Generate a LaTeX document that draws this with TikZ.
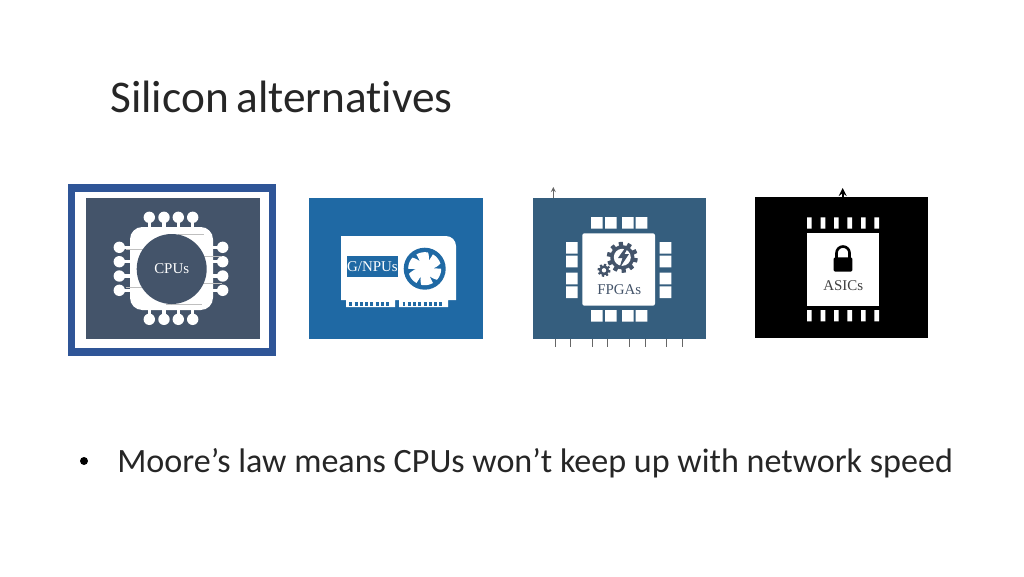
\documentclass[tikz,border=0pt]{standalone}
\usepackage{fontspec}
\usepackage{tikz}
\setmainfont{Carlito}
\newfontfamily\chipfont{Liberation Serif}
\newfontfamily\titlefont[Ligatures=NoCommon,WordSpace=0.75]{Carlito}
\definecolor{framecol}{HTML}{2F5597}
\definecolor{cpucol}{HTML}{44546A}
\definecolor{gpucol}{HTML}{1F69A4}
\definecolor{fpgacol}{HTML}{355E7E}
\definecolor{inkcol}{HTML}{262626}
\tikzset{
    chiplabel/.style={inner sep=0pt,font=\chipfont\fontsize{8.5pt}{10pt}\selectfont},
    slidetext/.style={inner sep=0pt,anchor=base west,text=inkcol},
    stem/.style={white,line width=1.8pt},
    faint/.style={black!25,line width=0.3pt}
}
\begin{document}
\begin{tikzpicture}[x=0.02cm,y=-0.02cm]
            \useasboundingbox (0,0) rectangle (1024,576);
            \node[slidetext,font=\titlefont\fontsize{25.8pt}{30pt}\selectfont] (title) at (110,112) {Silicon alternatives};
            \draw[framecol,line width=4pt] (71.5,188) rectangle (272.5,352);
            \begin{scope}[shift={(86,198)}]
                \fill[cpucol] (0,0) rectangle (174,141);
                \draw[stem] (63.3,19) -- (63.3,122) (78,19) -- (78,122) (92.3,19) -- (92.3,122) (106.7,19) -- (106.7,122);
                \draw[stem] (33,49.3) -- (137,49.3) (33,63.7) -- (137,63.7) (33,78) -- (137,78) (33,92.3) -- (137,92.3);
                \fill[white,rounded corners=7pt] (44,29) rectangle (127,112);
                \fill[white] (63.3,19.3) circle (5.7) (78,19.3) circle (5.7) (92.3,19.3) circle (5.7) (106.7,19.3) circle (5.7);
                \fill[white] (63.3,121.3) circle (5.7) (78,121.3) circle (5.7) (92.3,121.3) circle (5.7) (106.7,121.3) circle (5.7);
                \fill[white] (33.3,49.3) circle (5.7) (33.3,63.7) circle (5.7) (33.3,78) circle (5.7) (33.3,92.3) circle (5.7);
                \fill[white] (136.7,49.3) circle (5.7) (136.7,63.7) circle (5.7) (136.7,78) circle (5.7) (136.7,92.3) circle (5.7);
                \draw[faint] (92,36) -- (118,36) (80,106) -- (116,106) (40,51) -- (60,51) (40,89) -- (58,89) (110,58) -- (136,58) (112,85) -- (136,85);
                \fill[cpucol] (85.7,71) circle (35);
                \node[chiplabel,white] (cpus) at (85.7,71) {CPUs};
            \end{scope}
            \begin{scope}[shift={(309,198)}]
                \fill[gpucol] (0,0) rectangle (174,141);
                \fill[white] (32,38) -- (137,38) arc (-90:0:10) -- (147,102) -- (139,102) -- (139,109) -- (90,109) -- (90,102) -- (86,102) -- (86,109) -- (37,109) -- (37,102) -- (32,102) -- cycle;
                \draw[gpucol,line width=2.8pt,dash pattern=on 1.7pt off 1.3pt] (40.3,106) -- (82,106);
                \draw[gpucol,line width=2.8pt,dash pattern=on 1.7pt off 1.3pt] (93.5,106) -- (135,106);
                \fill[gpucol] (38,58) rectangle (89,79);
                \node[chiplabel,white] (gnpus) at (63.5,68.5) {G/NPUs};
                \fill[gpucol] (115.7,70.7) circle (21);
                \fill[white,shift={(115.7,70.7)},domain=0:357,samples=120,variable=\t] plot ({ifthenelse(mod(\t,60)<42,16.5,16.5-9.5*(mod(\t,60)-42)/18)*cos(\t)},{ifthenelse(mod(\t,60)<42,16.5,16.5-9.5*(mod(\t,60)-42)/18)*sin(\t)}) -- cycle;
            \end{scope}
            \begin{scope}[shift={(533,198)}]
                \fill[fpgacol] (0,0) rectangle (173,141);
                \draw[black!60,line width=0.3pt,->,>=stealth] (20.3,0) -- (20.3,-11);
                \draw[black!60,line width=0.3pt] (22,141) -- (22,149) (37.7,141) -- (37.7,149) (59.7,141) -- (59.7,149) (74.7,141) -- (74.7,149) (96.7,141) -- (96.7,149) (112,141) -- (112,149) (133.7,141) -- (133.7,149) (149,141) -- (149,149);
                \fill[white,rounded corners=1.2pt] (49.3,35.3) rectangle (122,107.7);
                \fill[white] (58,19) rectangle ++(11.7,11.7) (72,19) rectangle ++(11.7,11.7) (89,19) rectangle ++(11.7,11.7) (102.7,19) rectangle ++(11.7,11.7);
                \fill[white] (58,112) rectangle ++(11.7,11.7) (72,112) rectangle ++(11.7,11.7) (89,112) rectangle ++(11.7,11.7) (102.7,112) rectangle ++(11.7,11.7);
                \fill[white] (33,44) rectangle ++(11.7,11.7) (33,57.7) rectangle ++(11.7,11.7) (33,74.7) rectangle ++(11.7,11.7) (33,88.3) rectangle ++(11.7,11.7);
                \fill[white] (126.7,44) rectangle ++(11.7,11.7) (126.7,57.7) rectangle ++(11.7,11.7) (126.7,74.7) rectangle ++(11.7,11.7) (126.7,88.3) rectangle ++(11.7,11.7);
                % gears and bolt
                \fill[cpucol,shift={(89.3,59.3)},domain=0:358,samples=180,variable=\t] plot ({ifthenelse(mod(\t,36)<18,15.5,12)*cos(\t+4)},{ifthenelse(mod(\t,36)<18,15.5,12)*sin(\t+4)}) -- cycle;
                \fill[white] (89.3,59.3) circle (8.5);
                \fill[cpucol,shift={(71,72.3)},domain=0:358,samples=180,variable=\t] plot ({ifthenelse(mod(\t,45)<22.5,6.5,4.8)*cos(\t)},{ifthenelse(mod(\t,45)<22.5,6.5,4.8)*sin(\t)}) -- cycle;
                \fill[white] (71,72.3) circle (2.2);
                \fill[cpucol] (93.5,48) -- (85,60) -- (89.5,60) -- (86,71) -- (96,56) -- (91.5,56) -- (96,48) -- cycle;
                \node[chiplabel,text=cpucol] (fpgas) at (86.3,91.3) {FPGAs};
            \end{scope}
            \begin{scope}[shift={(755,197)}]
                \fill[black] (0,0) rectangle (173,141);
                \draw[black,line width=1pt,-stealth] (87.7,0) -- (87.7,-9);
                \fill[white] (51.7,36.3) rectangle (124,108.7);
                \fill[white] (52,20.3) rectangle ++(4.7,11.4) (65.7,20.3) rectangle ++(4.7,11.4) (79,20.3) rectangle ++(4.7,11.4) (92.3,20.3) rectangle ++(4.7,11.4) (106,20.3) rectangle ++(4.7,11.4) (119.3,20.3) rectangle ++(4.7,11.4);
                \fill[white] (52,113) rectangle ++(4.7,11.4) (65.7,113) rectangle ++(4.7,11.4) (79,113) rectangle ++(4.7,11.4) (92.3,113) rectangle ++(4.7,11.4) (106,113) rectangle ++(4.7,11.4) (119.3,113) rectangle ++(4.7,11.4);
                % lock
                \fill[black,rounded corners=0.8pt] (78.7,60.3) rectangle (97.3,74.7);
                \draw[black,line width=1.5pt] (81.5,61) -- (81.5,56) arc (180:360:6.5) -- (94.5,61);
                \node[chiplabel,text=black!75] (asics) at (88.3,89) {ASICs};
            \end{scope}
            \fill[black] (84,461) circle (4);
            \node[slidetext,font=\fontsize{19.4pt}{23pt}\selectfont] (bullet) at (117,472) {Moore’s law means CPUs won’t keep up with network speed};
        \end{tikzpicture}
\end{document}
